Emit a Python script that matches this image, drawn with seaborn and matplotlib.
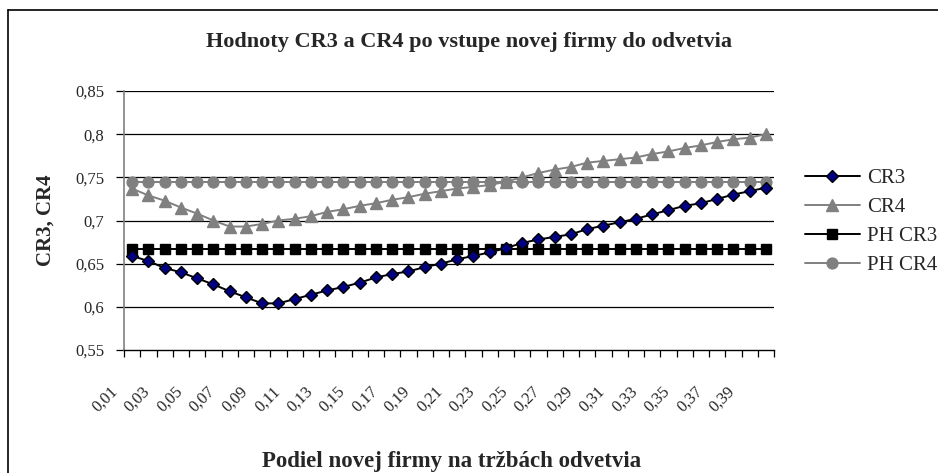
import numpy as np
import pandas as pd
import seaborn as sns
import matplotlib
matplotlib.use("Agg")
import matplotlib.pyplot as plt
from matplotlib.transforms import ScaledTranslation
from matplotlib.lines import Line2D

# ---- data ----
shares = [f"0,{i:02d}" for i in range(1, 41)]
cr3 = [0.659, 0.653, 0.645, 0.640, 0.633, 0.626, 0.618, 0.611, 0.604, 0.604,
       0.609, 0.614, 0.619, 0.623, 0.628, 0.634, 0.638, 0.641, 0.646, 0.650,
       0.655, 0.659, 0.663, 0.668, 0.674, 0.678, 0.681, 0.684, 0.690, 0.694,
       0.698, 0.702, 0.707, 0.712, 0.717, 0.720, 0.725, 0.730, 0.734, 0.738]
cr4 = [0.737, 0.729, 0.723, 0.715, 0.708, 0.700, 0.693, 0.693, 0.696, 0.700,
       0.702, 0.705, 0.710, 0.713, 0.717, 0.720, 0.724, 0.727, 0.731, 0.734,
       0.737, 0.739, 0.741, 0.745, 0.750, 0.755, 0.759, 0.762, 0.767, 0.769,
       0.771, 0.773, 0.777, 0.780, 0.784, 0.787, 0.791, 0.794, 0.796, 0.800]
ph_cr3 = [0.6667] * 40
ph_cr4 = [0.745] * 40
series_names = ["CR3", "CR4", "PH CR3", "PH CR4"]
y_ticks = [0.55, 0.6, 0.65, 0.7, 0.75, 0.8, 0.85]
y_tick_labels = ["0,55", "0,6", "0,65", "0,7", "0,75", "0,8", "0,85"]

title = "Hodnoty CR3 a CR4 po vstupe novej firmy do odvetvia"
xlabel = "Podiel novej firmy na tržbách odvetvia"
ylabel = "CR3, CR4"

# ---- styling ----
sns.set_style("white")
plt.rcParams["font.family"] = ["Liberation Serif", "DejaVu Serif"]

idx = np.arange(len(shares))
df = pd.concat([
    pd.DataFrame({"pos": idx, "value": vals, "series": name})
    for name, vals in zip(series_names, [cr3, cr4, ph_cr3, ph_cr4])
], ignore_index=True)

line_colors = {"CR3": "#000000", "CR4": "#808080", "PH CR3": "#000000", "PH CR4": "#808080"}
marker_face = {"CR3": "#000080", "CR4": "#808080", "PH CR3": "#000000", "PH CR4": "#808080"}
marker_edge = {"CR3": "#000000", "CR4": "#808080", "PH CR3": "#000000", "PH CR4": "#808080"}
markers = {"CR3": "D", "CR4": "^", "PH CR3": "s", "PH CR4": "o"}
msizes = {"CR3": 6.6, "CR4": 8.4, "PH CR3": 7.6, "PH CR4": 7.8}

fig = plt.figure(figsize=(9.38, 4.73), dpi=100)
W, H = 938, 473
ax = fig.add_axes([124 / W, 1 - 350 / H, (774 - 124) / W, (350 - 91) / H])

# gridlines first (behind)
for t in y_ticks[1:]:
    ax.axhline(t, color="black", lw=0.9, zorder=0)

draw_order = ["PH CR4", "PH CR3", "CR4", "CR3"]
for name in draw_order:
    sub = df[df["series"] == name]
    sns.lineplot(data=sub, x="pos", y="value", ax=ax, color=line_colors[name],
                 lw=1.4, marker=markers[name], markersize=msizes[name],
                 markerfacecolor=marker_face[name], markeredgecolor=marker_edge[name],
                 markeredgewidth=1.0, legend=False, zorder=3)

ax.set_xlim(-0.5, len(shares) - 0.5)
ax.set_ylim(0.55, 0.85)

# y axis
ax.set_yticks(y_ticks)
ax.set_yticklabels(y_tick_labels, fontsize=12)
ax.tick_params(axis="y", which="major", direction="out", length=6, width=0.9,
               color="black", pad=8, left=True)

# x axis: ticks at category boundaries, labels every other category
ax.set_xticks(np.arange(-0.5, len(shares), 1.0))
ax.set_xticklabels([])
ax.tick_params(axis="x", which="major", direction="out", length=5, width=0.9,
               color="black", bottom=True)
lab_pos = idx[::2]
ax.set_xticks(lab_pos, minor=True)
ax.set_xticklabels([shares[i] for i in lab_pos], minor=True, rotation=45,
                   ha="right", va="center", rotation_mode="anchor", fontsize=12)
ax.tick_params(axis="x", which="minor", length=0, pad=28)
off = ScaledTranslation(-0.17, 0, fig.dpi_scale_trans)
for lab in ax.get_xticklabels(minor=True):
    lab.set_transform(lab.get_transform() + off)

ax.set_xlabel("")
ax.set_ylabel("")
for s in ["top", "right"]:
    ax.spines[s].set_visible(False)
ax.spines["left"].set_color("#808080")
ax.spines["left"].set_linewidth(1.2)
ax.spines["bottom"].set_color("black")
ax.spines["bottom"].set_linewidth(1.0)

# titles
fig.text(469 / W, 1 - 42 / H, title, ha="center", va="center",
         fontsize=16, fontweight="bold")
fig.text(452 / W, 1 - 461 / H, xlabel, ha="center", va="center",
         fontsize=16.5, fontweight="bold")
fig.text(46 / W, 1 - 220 / H, ylabel, ha="center", va="center",
         rotation=90, fontsize=15, fontweight="bold")

# legend
handles = [Line2D([0], [0], color=line_colors[n], lw=1.4, marker=markers[n],
                  markersize=msizes[n], markerfacecolor=marker_face[n],
                  markeredgecolor=marker_edge[n], markeredgewidth=1.0)
           for n in series_names]
leg = fig.legend(handles, series_names, loc="upper left",
                 bbox_to_anchor=(797 / W, 1 - 160 / H), frameon=False,
                 fontsize=15, handlelength=2.6, handletextpad=0.35,
                 labelspacing=0.45, borderaxespad=0)

# outer frame (left and top)
fig.add_artist(Line2D([8 / W, 8 / W], [0, 1 - 10 / H], color="black", lw=1.2,
                      transform=fig.transFigure))
fig.add_artist(Line2D([8 / W, 1], [1 - 10 / H, 1 - 10 / H], color="black", lw=1.2,
                      transform=fig.transFigure))

fig.savefig("out.png", dpi=100, facecolor="white")
